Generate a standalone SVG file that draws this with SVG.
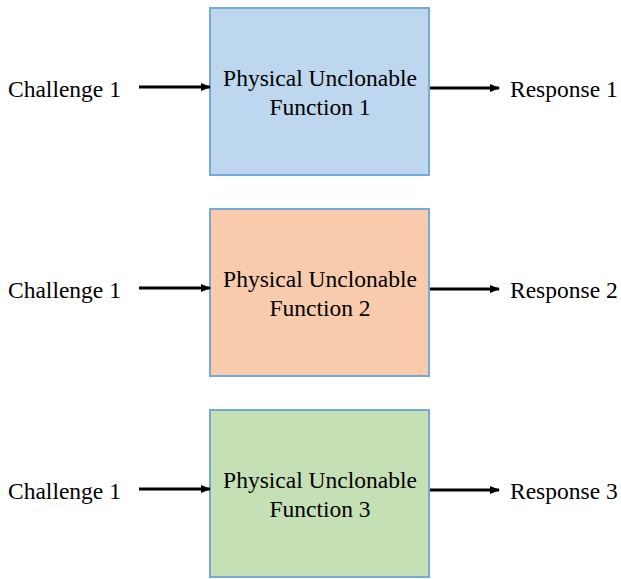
<svg xmlns="http://www.w3.org/2000/svg" width="621" height="579" viewBox="0 0 621 579">
<defs>
<style>
.box{stroke:#74a9d8;stroke-width:2}
.arr{stroke:#000;stroke-width:3;fill:none;marker-end:url(#ah)}
</style>
<marker id="ah" markerWidth="10" markerHeight="8" refX="9" refY="4" orient="auto" markerUnits="userSpaceOnUse"><path d="M0,0 L10,4 L0,8 Z" fill="#000"/></marker>
</defs>
<rect width="621" height="579" fill="#fff"/>
<g font-family="'Liberation Serif', 'Times New Roman', serif" font-size="23.5" fill="#000">
<g id="puf1">
<rect class="box" x="210" y="8" width="219" height="167" fill="#bdd7ee"/>
<text text-anchor="middle" x="320" y="86" fill="#000">Physical Unclonable</text>
<text text-anchor="middle" x="320" y="115" fill="#000">Function 1</text>
</g>
<g id="puf2">
<rect class="box" x="210" y="209" width="219" height="167" fill="#f8cbad"/>
<text text-anchor="middle" x="320" y="287" fill="#000">Physical Unclonable</text>
<text text-anchor="middle" x="320" y="316" fill="#000">Function 2</text>
</g>
<g id="puf3">
<rect class="box" x="210" y="410" width="219" height="167" fill="#c5e0b4"/>
<text text-anchor="middle" x="320" y="488" fill="#000">Physical Unclonable</text>
<text text-anchor="middle" x="320" y="517" fill="#000">Function 3</text>
</g>
<g id="ch1"><text x="8" y="97">Challenge 1</text></g>
<g id="ch2"><text x="8" y="298">Challenge 1</text></g>
<g id="ch3"><text x="8" y="499">Challenge 1</text></g>
<g id="r1"><text x="510" y="97">Response 1</text></g>
<g id="r2"><text x="510" y="298">Response 2</text></g>
<g id="r3"><text x="510" y="499">Response 3</text></g>
</g>
<g id="connectors">
<line class="arr" x1="139" y1="87" x2="210" y2="87"/>
<line class="arr" x1="430" y1="88" x2="499" y2="88"/>
<line class="arr" x1="139" y1="288" x2="210" y2="288"/>
<line class="arr" x1="430" y1="289" x2="499" y2="289"/>
<line class="arr" x1="139" y1="489" x2="210" y2="489"/>
<line class="arr" x1="430" y1="490" x2="499" y2="490"/>
</g>
</svg>
